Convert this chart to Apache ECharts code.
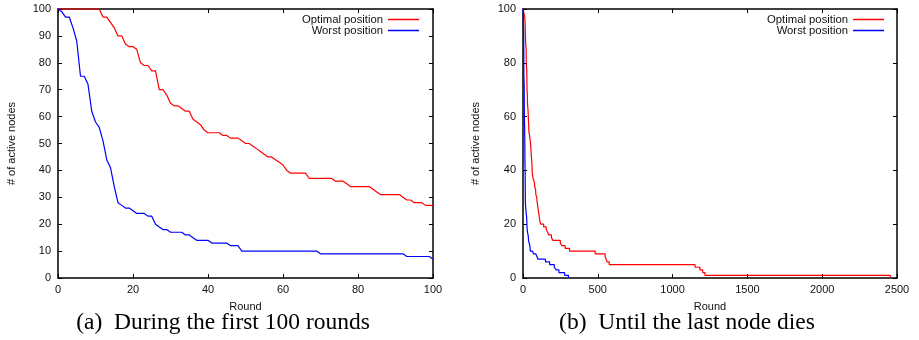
<!DOCTYPE html>
<html>
<head>
<meta charset="utf-8">
<script src="https://cdn.jsdelivr.net/npm/echarts@6/dist/echarts.min.js"></script>
<style>
  html, body { margin: 0; padding: 0; background: #fff; }
  #chart { width: 919px; height: 340px; }
</style>
</head>
<body>
<div id="chart"></div>
<script>
// active nodes per round, rounds 0..100 (one value per round)
const optimalFirst100 = [
  100, 100, 100, 100, 100, 100, 100, 100, 100, 100,
  100, 100, 97, 97, 95, 93, 90, 90, 87, 86,
  86, 85, 80, 79, 79, 77, 77, 70, 70, 68,
  65, 64, 64, 63, 62, 62, 59, 58, 57, 55,
  54, 54, 54, 54, 53, 53, 52, 52, 52, 51,
  50, 50, 49, 48, 47, 46, 45, 45, 44, 43,
  42, 40, 39, 39, 39, 39, 39, 37, 37, 37,
  37, 37, 37, 37, 36, 36, 36, 35, 34, 34,
  34, 34, 34, 34, 33, 32, 31, 31, 31, 31,
  31, 31, 30, 29, 29, 28, 28, 28, 27, 27,
  27
];
const worstFirst100 = [
  100, 99, 97, 97, 93, 88, 75, 75, 72, 62,
  58, 56, 51, 44, 41, 34, 28, 27, 26, 26,
  25, 24, 24, 24, 23, 23, 20, 19, 18, 18,
  17, 17, 17, 17, 16, 16, 15, 14, 14, 14,
  14, 13, 13, 13, 13, 13, 12, 12, 12, 10,
  10, 10, 10, 10, 10, 10, 10, 10, 10, 10,
  10, 10, 10, 10, 10, 10, 10, 10, 10, 10,
  9, 9, 9, 9, 9, 9, 9, 9, 9, 9,
  9, 9, 9, 9, 9, 9, 9, 9, 9, 9,
  9, 9, 9, 8, 8, 8, 8, 8, 8, 8,
  7
];

// after round 100: round at which the count changes, and the new count
const optimalTailRounds = [103, 108, 113, 118, 138, 155, 165, 172, 190, 200, 249, 260, 282, 311, 482, 549, 555, 562, 576, 1150, 1183, 1201, 1216, 2455];
const optimalTailValues = [25, 23, 21, 20, 19, 18, 17, 16, 15, 14, 13, 12, 11, 10, 9, 8, 7, 6, 5, 4, 3, 2, 1, 0];
const worstTailRounds = [150, 178, 209, 222, 240, 278, 304];
const worstTailValues = [6, 5, 4, 3, 2, 1, 0];

const seriesNames = ['Optimal position', 'Worst position'];
const seriesColors = ['#ff0000', '#0000ff'];
const captions = ['(a)  During the first 100 rounds', '(b)  Until the last node dies'];

const sans = '"Liberation Sans", Helvetica, Arial, sans-serif';
const serif = '"Liberation Serif", "Times New Roman", serif';

function first100(values) {
  return values.map((v, i) => [i, v]);
}
function withTail(values, rounds, tail) {
  return first100(values).concat(rounds.map((r, i) => [r, tail[i]]));
}

function xAxisFor(grid, pos, max, interval, labels) {
  return {
    type: 'value', gridIndex: grid, position: pos, min: 0, max: max, interval: interval,
    name: labels ? 'Round' : '', nameLocation: 'middle', nameGap: 23,
    nameTextStyle: { fontFamily: sans, fontSize: 11, color: '#111' },
    axisLine: { show: true, onZero: false, lineStyle: { color: '#000', width: 1.5 } },
    axisTick: { show: true, inside: true, length: 4, lineStyle: { color: '#000' } },
    axisLabel: { show: labels, margin: 6, fontFamily: sans, fontSize: 11, color: '#111',
      formatter: v => String(v) },
    splitLine: { show: false }
  };
}
function yAxisFor(grid, pos, interval, labels, gap) {
  return {
    type: 'value', gridIndex: grid, position: pos, min: 0, max: 100, interval: interval,
    name: labels ? '# of active nodes' : '', nameLocation: 'middle', nameGap: gap,
    nameTextStyle: { fontFamily: sans, fontSize: 11, color: '#111' },
    axisLine: { show: true, onZero: false, lineStyle: { color: '#000', width: 1.5 } },
    axisTick: { show: true, inside: true, length: 4, lineStyle: { color: '#000' } },
    axisLabel: { show: labels, margin: 7, fontFamily: sans, fontSize: 11, color: '#111' },
    splitLine: { show: false }
  };
}
function legendFor(right) {
  return {
    data: seriesNames, orient: 'vertical', align: 'right', right: right, top: 14,
    padding: 0, itemGap: 0, itemWidth: 31, itemHeight: 1.5, icon: 'rect',
    selectedMode: false,
    textStyle: { fontFamily: sans, fontSize: 11.3, lineHeight: 11, color: '#111' }
  };
}
function lineSeries(name, color, xi, yi, data, step) {
  return {
    name: name, type: 'line', xAxisIndex: xi, yAxisIndex: yi, data: data,
    step: step, showSymbol: false, symbol: 'none', clip: false,
    lineStyle: { color: color, width: 1.2 }, itemStyle: { color: color }
  };
}

const chart = echarts.init(document.getElementById('chart'));
chart.setOption({
  animation: false,
  backgroundColor: '#fff',
  grid: [
    { left: 58, top: 9, width: 375, height: 269 },
    { left: 523, top: 9, width: 374, height: 269 }
  ],
  xAxis: [
    xAxisFor(0, 'bottom', 100, 20, true),
    xAxisFor(0, 'top', 100, 20, false),
    xAxisFor(1, 'bottom', 2500, 500, true),
    xAxisFor(1, 'top', 2500, 500, false)
  ],
  yAxis: [
    yAxisFor(0, 'left', 10, true, 41),
    yAxisFor(0, 'right', 10, false, 0),
    yAxisFor(1, 'left', 20, true, 42),
    yAxisFor(1, 'right', 20, false, 0)
  ],
  legend: [legendFor(500), legendFor(35)],
  series: [
    lineSeries(seriesNames[0], seriesColors[0], 0, 0, first100(optimalFirst100), false),
    lineSeries(seriesNames[1], seriesColors[1], 0, 0, first100(worstFirst100), false),
    lineSeries(seriesNames[0], seriesColors[0], 2, 2, withTail(optimalFirst100, optimalTailRounds, optimalTailValues), 'end'),
    lineSeries(seriesNames[1], seriesColors[1], 2, 2, withTail(worstFirst100, worstTailRounds, worstTailValues), 'end')
  ],
  graphic: captions.map((t, i) => ({
    type: 'text', x: i === 0 ? 223 : 687, y: 323,
    style: { text: t, fontFamily: serif, fontSize: 23.5, fill: '#000', align: 'center', verticalAlign: 'middle' }
  }))
});
</script>
</body>
</html>
